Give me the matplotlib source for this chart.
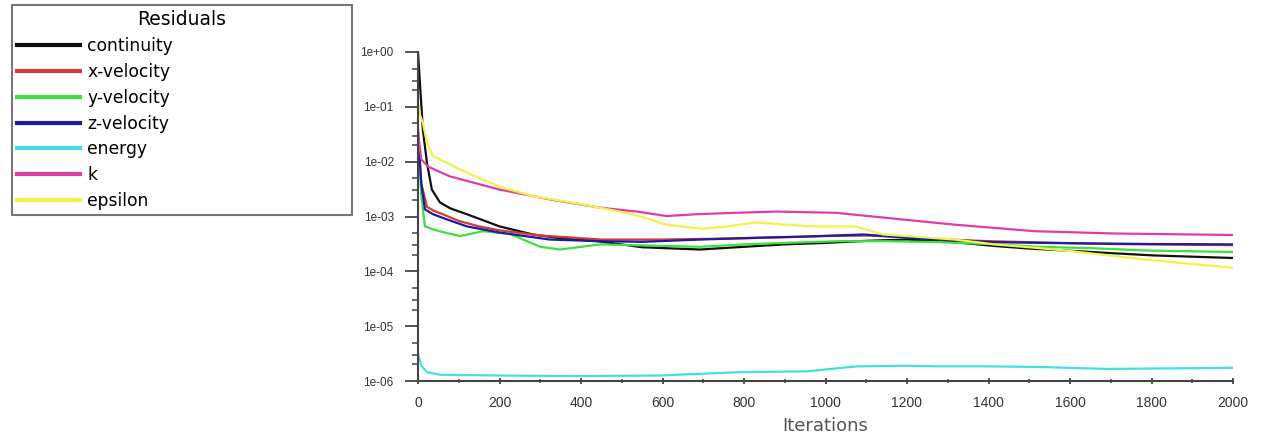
import matplotlib
matplotlib.use("Agg")
import matplotlib.pyplot as plt
from matplotlib.ticker import MultipleLocator, LogLocator, FuncFormatter

# Residual histories (iteration, residual)
continuity_it = [0, 5, 12, 22, 34, 54, 80, 120, 200, 282, 350, 447, 550, 692, 800, 900,
                 1000, 1100, 1200, 1317, 1415, 1500, 1610, 1700, 1805, 1900, 2000]
continuity = [1.0, 2.5e-1, 3.8e-2, 9.5e-3, 3.1e-3, 1.8e-3, 1.4e-3, 1.1e-3, 6.6e-4, 4.7e-4,
              4.0e-4, 3.5e-4, 2.75e-4, 2.5e-4, 2.8e-4, 3.1e-4, 3.3e-4, 3.6e-4, 3.8e-4,
              3.4e-4, 2.9e-4, 2.6e-4, 2.35e-4, 2.15e-4, 1.95e-4, 1.85e-4, 1.75e-4]

xvel_it = [0, 8, 22, 40, 61, 100, 150, 200, 300, 450, 600, 800, 1000, 1100, 1200, 1300,
           1400, 1500, 1700, 2000]
xvel = [2.5e-2, 4.0e-3, 1.5e-3, 1.26e-3, 1.1e-3, 8.3e-4, 6.6e-4, 5.6e-4, 4.5e-4, 3.8e-4,
        3.8e-4, 4.0e-4, 4.4e-4, 4.5e-4, 4.2e-4, 3.8e-4, 3.55e-4, 3.4e-4, 3.15e-4, 3.0e-4]

yvel_it = [0, 8, 17, 37, 70, 103, 160, 226, 300, 349, 447, 570, 692, 800, 900, 1035,
           1150, 1281, 1400, 1526, 1650, 1784, 2000]
yvel = [3.4e-2, 2.5e-3, 6.6e-4, 5.8e-4, 5.0e-4, 4.4e-4, 5.4e-4, 4.8e-4, 2.8e-4, 2.5e-4,
        3.1e-4, 2.95e-4, 2.8e-4, 3.1e-4, 3.3e-4, 3.55e-4, 3.55e-4, 3.4e-4, 3.15e-4,
        2.8e-4, 2.65e-4, 2.4e-4, 2.25e-4]

zvel_it = [0, 8, 17, 37, 70, 120, 200, 323, 447, 550, 692, 829, 950, 1093, 1220, 1415,
           1600, 1800, 2000]
zvel = [3.8e-2, 4.0e-3, 1.35e-3, 1.1e-3, 8.9e-4, 6.6e-4, 5.1e-4, 3.8e-4, 3.55e-4,
        3.45e-4, 3.8e-4, 4.1e-4, 4.3e-4, 4.7e-4, 4.0e-4, 3.4e-4, 3.25e-4, 3.15e-4, 3.1e-4]

energy_it = [0, 8, 22, 54, 200, 380, 594, 790, 955, 1077, 1200, 1281, 1400, 1526, 1690,
             1850, 2000]
energy = [3.2e-6, 1.9e-6, 1.45e-6, 1.3e-6, 1.26e-6, 1.23e-6, 1.26e-6, 1.45e-6, 1.5e-6,
          1.85e-6, 1.9e-6, 1.85e-6, 1.85e-6, 1.8e-6, 1.66e-6, 1.7e-6, 1.74e-6]

k_it = [0, 8, 25, 78, 200, 323, 447, 537, 610, 683, 780, 878, 1024, 1171, 1317, 1512,
        1708, 2000]
k = [3.4e-2, 1.1e-2, 8.1e-3, 5.4e-3, 3.1e-3, 2.05e-3, 1.45e-3, 1.23e-3, 1.02e-3, 1.1e-3,
     1.17e-3, 1.23e-3, 1.17e-3, 9.1e-4, 7.1e-4, 5.4e-4, 4.9e-4, 4.6e-4]

eps_it = [0, 5, 12, 22, 37, 120, 200, 282, 405, 527, 610, 667, 700, 760, 829, 900, 976,
          1073, 1141, 1200, 1317, 1415, 1512, 1600, 1708, 1800, 1903, 2000]
eps = [1.23e-1, 7.1e-2, 5.1e-2, 2.2e-2, 1.26e-2, 6.3e-3, 3.5e-3, 2.35e-3, 1.66e-3,
       1.1e-3, 7.1e-4, 6.3e-4, 6.0e-4, 6.6e-4, 7.8e-4, 7.1e-4, 6.6e-4, 6.6e-4, 4.7e-4,
       4.4e-4, 3.8e-4, 3.1e-4, 2.7e-4, 2.35e-4, 1.9e-4, 1.6e-4, 1.35e-4, 1.17e-4]

series = [
    ("continuity", continuity_it, continuity, "#111111"),
    ("x-velocity", xvel_it, xvel, "#d43a3a"),
    ("y-velocity", yvel_it, yvel, "#3ee03e"),
    ("z-velocity", zvel_it, zvel, "#1c1ca0"),
    ("energy", energy_it, energy, "#44e0e0"),
    ("k", k_it, k, "#e03ca8"),
    ("epsilon", eps_it, eps, "#f2f24a"),
]

plt.rcParams["font.family"] = ["Liberation Sans", "DejaVu Sans"]

fig = plt.figure(figsize=(12.61, 4.38), dpi=100)
ax = fig.add_axes([418 / 1261, 1 - 381 / 438, 815 / 1261, 329 / 438])

handles = []
for name, it, vals, col in series:
    h, = ax.plot(it, vals, color=col, linewidth=1.6, label=name)
    handles.append(h)

ax.set_yscale("log")
ax.set_ylim(1e-6, 1.0)
ax.set_xlim(0, 2000)
ax.xaxis.set_major_locator(MultipleLocator(200))
ax.xaxis.set_minor_locator(MultipleLocator(100))
ax.yaxis.set_major_locator(LogLocator(base=10, numticks=10))
ax.yaxis.set_minor_locator(LogLocator(base=10, subs=(2, 3, 5), numticks=20))
ax.yaxis.set_major_formatter(FuncFormatter(lambda v, p: f"{v:.0e}"))

for s in ["top", "right"]:
    ax.spines[s].set_visible(False)
for s in ["left", "bottom"]:
    ax.spines[s].set_color("#444444")
    ax.spines[s].set_linewidth(1.5)

ax.tick_params(axis="y", which="major", direction="out", length=9.5, width=1.3,
               color="#444444", labelsize=8.5, labelcolor="#333333", pad=8)
ax.tick_params(axis="y", which="minor", direction="out", length=4.5, width=1.1,
               color="#444444")
ax.tick_params(axis="x", which="major", direction="inout", length=5, width=1.3,
               color="#444444", labelsize=10, labelcolor="#333333", pad=8)
ax.tick_params(axis="x", which="minor", direction="inout", length=3, width=1.1,
               color="#444444")
ax.set_xlabel("Iterations", fontsize=13, color="#555555", labelpad=5,
              family="DejaVu Sans")

leg = fig.legend(handles=handles, title="Residuals", loc="upper left",
                 bbox_to_anchor=(12 / 1261, 1 - 217 / 438, 340 / 1261, 212 / 438),
                 mode="expand", prop={"family": "DejaVu Sans", "size": 12.3},
                 frameon=True, fancybox=False, edgecolor="#555555",
                 handlelength=3.7, handletextpad=0.4, labelspacing=0.46,
                 borderpad=0.3, borderaxespad=0)
leg.get_title().set_fontsize(13.5)
leg.get_title().set_family("DejaVu Sans")
leg.get_frame().set_linewidth(1.5)
for line in leg.get_lines():
    line.set_linewidth(3)

fig.savefig("out.png", dpi=100)
